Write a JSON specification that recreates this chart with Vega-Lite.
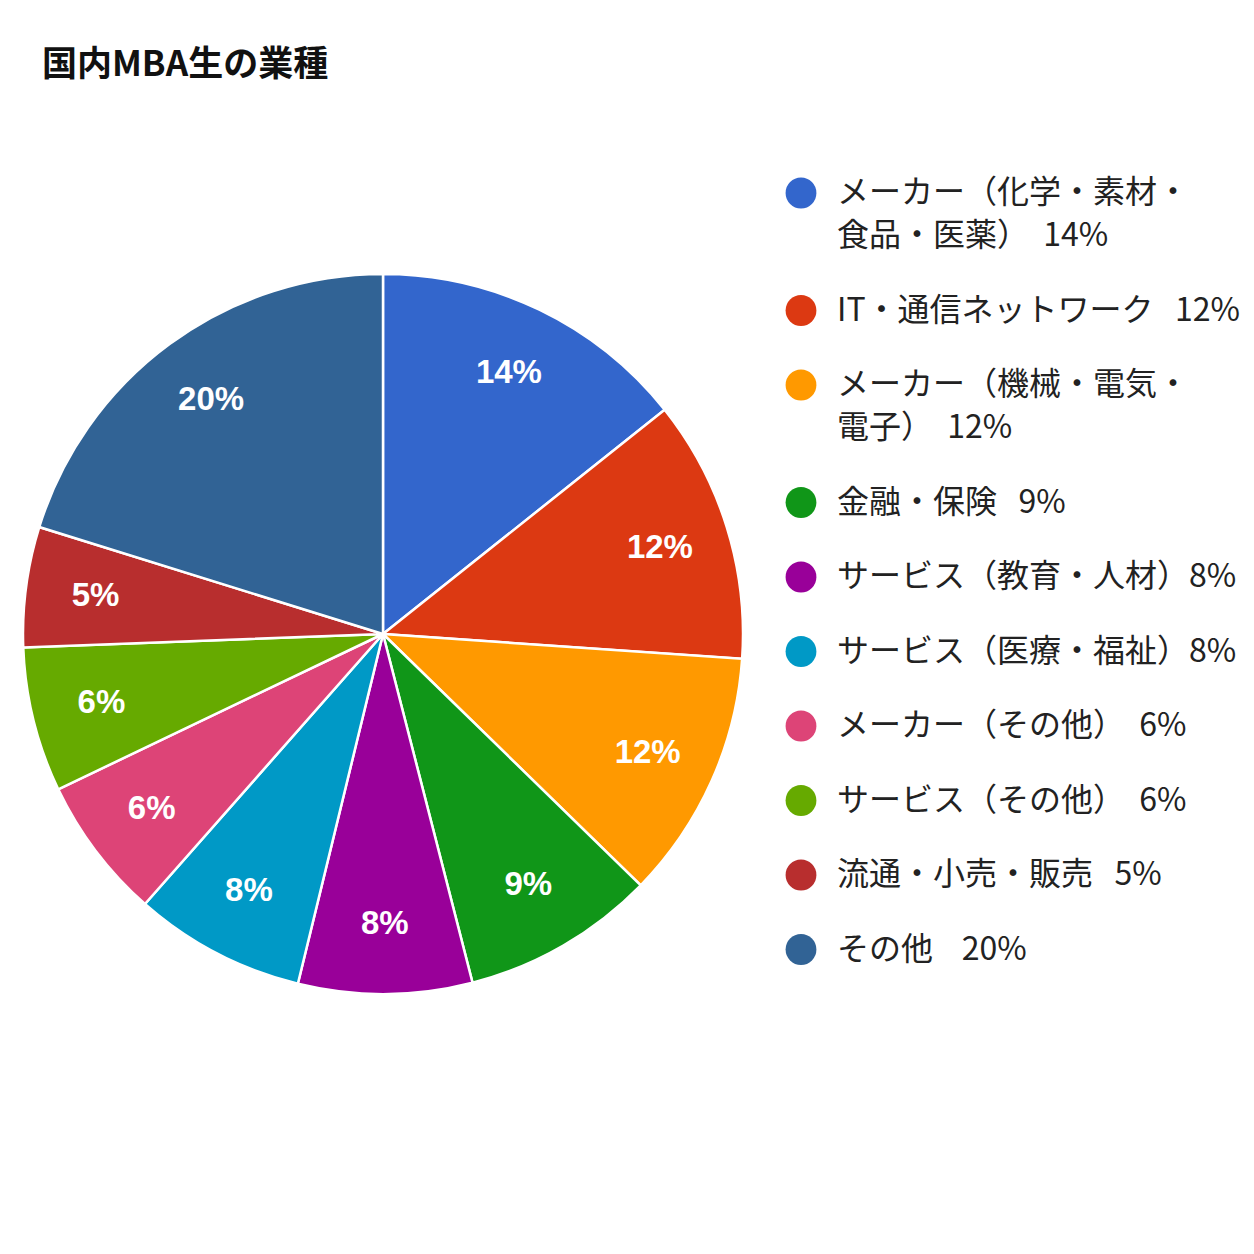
{
  "$schema": "https://vega.github.io/schema/vega-lite/v6.json",
  "autosize": "none",
  "width": 720,
  "height": 720,
  "padding": {"left": 23, "top": 274, "right": 511, "bottom": 260},
  "background": "white",
  "config": {
    "style": {"guide-label": {"lineHeight": 43}}
  },
  "title": {
    "text": "国内MBA生の業種",
    "anchor": "start",
    "frame": "group",
    "offset": 94,
    "dx": 19,
    "font": "Noto Sans CJK JP",
    "fontSize": 35,
    "fontWeight": "bold",
    "color": "#111111"
  },
  "data": {
    "values": [
      {"order": 1, "industry": "メーカー（化学・素材・\n食品・医薬）\u00a0 14%", "value": 14.3, "label": "14%"},
      {"order": 2, "industry": "IT・通信ネットワーク\u00a0\u00a0 12%", "value": 11.8, "label": "12%"},
      {"order": 3, "industry": "メーカー（機械・電気・\n電子）\u00a0 12%", "value": 11.2, "label": "12%"},
      {"order": 4, "industry": "金融・保険\u00a0\u00a0 9%", "value": 8.7, "label": "9%"},
      {"order": 5, "industry": "サービス（教育・人材）8%", "value": 7.8, "label": "8%"},
      {"order": 6, "industry": "サービス（医療・福祉）8%", "value": 7.7, "label": "8%"},
      {"order": 7, "industry": "メーカー（その他）\u00a0 6%", "value": 6.4, "label": "6%"},
      {"order": 8, "industry": "サービス（その他）\u00a0 6%", "value": 6.5, "label": "6%"},
      {"order": 9, "industry": "流通・小売・販売\u00a0\u00a0 5%", "value": 5.4, "label": "5%"},
      {"order": 10, "industry": "その他\u00a0\u00a0\u00a0 20%", "value": 20.2, "label": "20%"}
    ]
  },
  "encoding": {
    "theta": {"field": "value", "type": "quantitative", "stack": true},
    "order": {"field": "order", "type": "quantitative"}
  },
  "layer": [
    {
      "mark": {"type": "arc", "radius": 360, "stroke": "white", "strokeWidth": 2.5},
      "encoding": {
        "color": {
          "field": "industry",
          "type": "nominal",
          "scale": {
            "domain": [
              "メーカー（化学・素材・\n食品・医薬）\u00a0 14%",
              "IT・通信ネットワーク\u00a0\u00a0 12%",
              "メーカー（機械・電気・\n電子）\u00a0 12%",
              "金融・保険\u00a0\u00a0 9%",
              "サービス（教育・人材）8%",
              "サービス（医療・福祉）8%",
              "メーカー（その他）\u00a0 6%",
              "サービス（その他）\u00a0 6%",
              "流通・小売・販売\u00a0\u00a0 5%",
              "その他\u00a0\u00a0\u00a0 20%"
            ],
            "range": ["#3366cc", "#dc3912", "#ff9900", "#109618", "#990099", "#0099c6", "#dd4477", "#66aa00", "#b82e2e", "#316395"]
          },
          "legend": {
            "title": null,
            "orient": "none",
            "legendX": 762,
            "legendY": -97,
            "padding": 0,
            "symbolType": "circle",
            "symbolSize": 950,
            "symbolStrokeWidth": 0,
            "labelFont": "Noto Sans CJK JP",
            "labelFontSize": 32,
            "labelColor": "#222222",
            "labelLimit": 600,
            "labelOffset": 20,
            "labelBaseline": "middle",
            "labelExpr": "split(datum.label, '\\n')",
            "rowPadding": 42.5,
            "encode": {
              "labels": {"update": {"lineHeight": {"value": 43}}}
            }
          }
        }
      }
    },
    {
      "mark": {"type": "text", "radius": 290, "font": "Liberation Sans", "fontSize": 33, "fontWeight": "bold", "color": "white"},
      "encoding": {
        "text": {"field": "label", "type": "nominal"}
      }
    }
  ]
}
